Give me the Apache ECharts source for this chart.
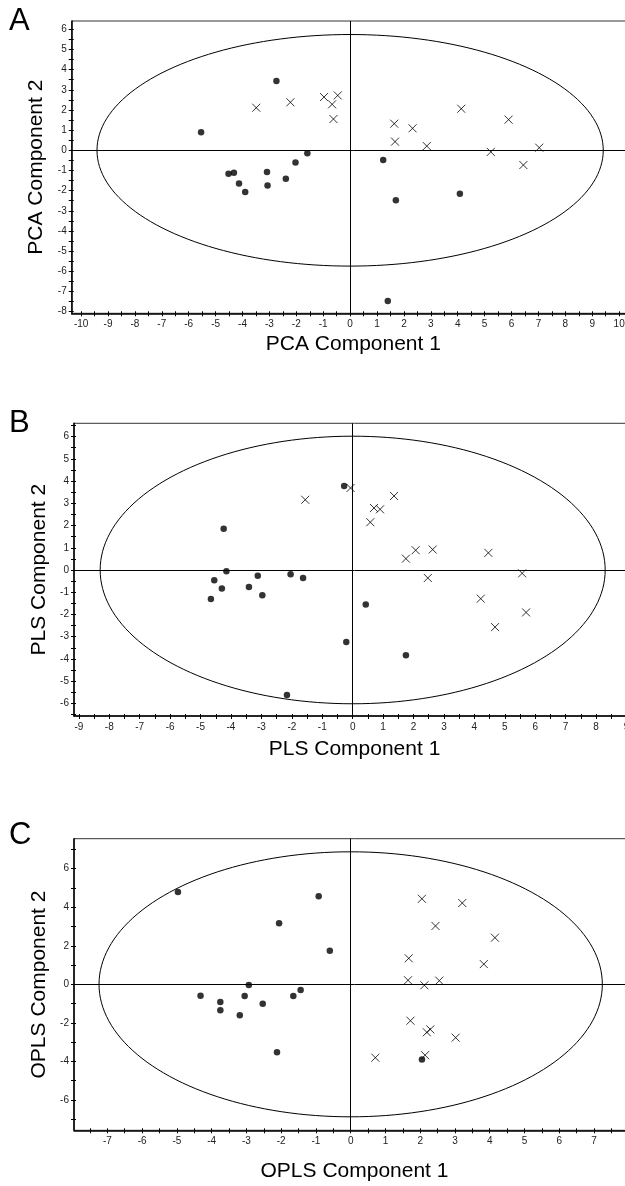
<!DOCTYPE html>
<html>
<head>
<meta charset="utf-8">
<title>PCA / PLS / OPLS score plots</title>
<script src="https://cdn.jsdelivr.net/npm/echarts@6/dist/echarts.min.js"></script>
<style>
  html, body { margin: 0; padding: 0; background: #fff; overflow: hidden; }
  #chart { width: 640px; height: 1186px; }
</style>
</head>
<body>
<div id="chart"></div>
<script>
// scores, [component 1, component 2]
const pcaDots = [[-5.54, 0.89], [-2.74, 3.44], [-4.52, -1.16], [-4.32, -1.11], [-4.13, -1.64],
  [-3.90, -2.07], [-3.09, -1.08], [-3.07, -1.74], [-2.39, -1.41], [-2.03, -0.60], [-1.59, -0.15],
  [1.23, -0.48], [1.70, -2.48], [4.08, -2.15], [1.40, -7.47]]
const pcaCrosses = [[-3.49, 2.11], [-2.22, 2.38], [-0.97, 2.64], [-0.46, 2.72], [-0.67, 2.28],
  [-0.62, 1.55], [1.64, 1.32], [1.67, 0.43], [2.32, 1.09], [2.85, 0.21], [4.13, 2.06],
  [5.23, -0.08], [5.89, 1.52], [6.44, -0.73], [7.03, 0.13]]

const plsDots = [[-4.24, 1.85], [-4.15, -0.06], [-4.55, -0.46], [-4.30, -0.83], [-4.66, -1.31],
  [-3.41, -0.77], [-3.12, -0.26], [-2.97, -1.14], [-2.04, -0.19], [-1.63, -0.36], [-2.16, -5.63],
  [-0.28, 3.78], [0.43, -1.55], [-0.21, -3.24], [1.75, -3.84]]
const plsCrosses = [[-1.56, 3.16], [-0.07, 3.69], [0.70, 2.79], [0.90, 2.73], [1.36, 3.33],
  [0.58, 2.15], [1.75, 0.51], [2.07, 0.89], [2.63, 0.92], [2.47, -0.36], [4.46, 0.77],
  [4.21, -1.29], [5.57, -0.15], [5.70, -1.91], [4.68, -2.57]]

const oplsDots = [[-4.97, 4.79], [-0.92, 4.57], [-2.06, 3.17], [-0.60, 1.74], [-4.32, -0.59],
  [-3.75, -0.92], [-3.75, -1.35], [-3.19, -1.61], [-3.05, -0.61], [-2.93, -0.04], [-2.53, -1.01],
  [-1.65, -0.61], [-1.44, -0.30], [-2.12, -3.53], [2.05, -3.91]]
const oplsCrosses = [[2.05, 4.44], [3.21, 4.22], [2.44, 3.03], [4.15, 2.42], [1.67, 1.35],
  [3.83, 1.05], [1.65, 0.21], [2.12, -0.05], [2.55, 0.19], [1.72, -1.89], [2.19, -2.49],
  [2.29, -2.34], [3.02, -2.77], [0.71, -3.81], [2.14, -3.68]]

// Hotelling T2 ellipse semi axes [a, b]
const pcaEllipse = [9.41, 5.74]
const plsEllipse = [8.30, 6.02]
const oplsEllipse = [7.24, 6.88]

// tick labels
const pcaXLabels = [-10, -9, -8, -7, -6, -5, -4, -3, -2, -1, 0, 1, 2, 3, 4, 5, 6, 7, 8, 9, 10]
const pcaYLabels = [-8, -7, -6, -5, -4, -3, -2, -1, 0, 1, 2, 3, 4, 5, 6]
const plsXLabels = [-9, -8, -7, -6, -5, -4, -3, -2, -1, 0, 1, 2, 3, 4, 5, 6, 7, 8, 9]
const plsYLabels = [-6, -5, -4, -3, -2, -1, 0, 1, 2, 3, 4, 5, 6]
const oplsXLabels = [-7, -6, -5, -4, -3, -2, -1, 0, 1, 2, 3, 4, 5, 6, 7]
const oplsYLabels = [-6, -4, -2, 0, 2, 4, 6]

const FONT = 'Liberation Sans, Arial, sans-serif'

function ticksBetween(lo, hi, step) {
  let out = []
  for (let v = lo; v <= hi + 1e-9; v += step) out.push(+v.toFixed(2))
  return out
}

function ellipsePoints(r) {
  let pts = []
  for (let i = 0; i <= 360; i += 2) {
    let t = i * Math.PI / 180
    pts.push([r[0] * Math.cos(t), r[1] * Math.sin(t)])
  }
  return pts
}

const panels = [
  {
    letter: 'A', letterTop: 6,
    grid: { left: 71.7, top: 21, width: 563.3, height: 292.3 },
    x: { min: -10.35, max: 10.59, labels: pcaXLabels, ticks: ticksBetween(-10, 10.5, 0.5), name: 'PCA Component 1', gap: 20 },
    y: { min: -8.08, max: 6.41, labels: pcaYLabels, ticks: ticksBetween(-8, 6, 0.5), name: 'PCA Component 2', gap: 19 },
    dots: pcaDots, crosses: pcaCrosses, ellipse: pcaEllipse
  },
  {
    letter: 'B', letterTop: 408,
    grid: { left: 74, top: 423.3, width: 561, height: 292.7 },
    x: { min: -9.16, max: 9.28, labels: plsXLabels, ticks: ticksBetween(-9, 9, 0.5), name: 'PLS Component 1', gap: 23 },
    y: { min: -6.57, max: 6.60, labels: plsYLabels, ticks: ticksBetween(-6.5, 6.5, 0.5), name: 'PLS Component 2', gap: 22 },
    dots: plsDots, crosses: plsCrosses, ellipse: plsEllipse
  },
  {
    letter: 'C', letterTop: 820,
    grid: { left: 74, top: 838.7, width: 561, height: 291.6 },
    x: { min: -7.96, max: 8.18, labels: oplsXLabels, ticks: ticksBetween(-7.5, 8, 0.5), name: 'OPLS Component 1', gap: 30 },
    y: { min: -7.58, max: 7.56, labels: oplsYLabels, ticks: ticksBetween(-7, 7, 1), name: 'OPLS Component 2', gap: 23 },
    dots: oplsDots, crosses: oplsCrosses, ellipse: oplsEllipse
  }
]

const crossSymbol = 'path://M0,0L10,10M10,0L0,10'

let option = {
  animation: false,
  backgroundColor: '#fff',
  textStyle: { fontFamily: FONT },
  title: [], grid: [], xAxis: [], yAxis: [], series: []
}

panels.forEach((p, i) => {
  option.title.push({
    text: p.letter, left: 9, top: p.letterTop, padding: 0,
    textStyle: { fontSize: 31, fontWeight: 'normal', color: '#000', fontFamily: FONT }
  })
  option.grid.push(Object.assign({
    show: true, borderColor: '#333', borderWidth: 1, backgroundColor: 'transparent'
  }, p.grid))

  // main axes: line, labels, outward ticks, title
  option.xAxis.push({
    type: 'value', gridIndex: i, position: 'bottom', min: p.x.min, max: p.x.max,
    name: p.x.name, nameLocation: 'middle', nameGap: p.x.gap,
    nameTextStyle: { fontSize: 21, color: '#000', fontFamily: FONT },
    axisLine: { onZero: false, lineStyle: { color: '#000', width: 1.5 } },
    axisTick: { show: true, length: 3, customValues: p.x.ticks, lineStyle: { color: '#000' } },
    axisLabel: { customValues: p.x.labels, fontSize: 10, color: '#222', margin: 6, fontFamily: FONT },
    splitLine: { show: false }
  })
  option.yAxis.push({
    type: 'value', gridIndex: i, position: 'left', min: p.y.min, max: p.y.max,
    name: p.y.name, nameLocation: 'middle', nameGap: p.y.gap,
    nameTextStyle: { fontSize: 21, color: '#000', fontFamily: FONT },
    axisLine: { onZero: false, lineStyle: { color: '#000', width: 1.5 } },
    axisTick: { show: true, length: 3, customValues: p.y.ticks, lineStyle: { color: '#000' } },
    axisLabel: { customValues: p.y.labels, fontSize: 10, color: '#222', margin: 5, fontFamily: FONT },
    splitLine: { show: false }
  })
  // twin axes only for the inward half of the ticks
  option.xAxis.push({
    type: 'value', gridIndex: i, position: 'bottom', min: p.x.min, max: p.x.max,
    axisLine: { show: false, onZero: false },
    axisTick: { show: true, inside: true, length: 2, customValues: p.x.ticks, lineStyle: { color: '#000' } },
    axisLabel: { show: false }, splitLine: { show: false }
  })
  option.yAxis.push({
    type: 'value', gridIndex: i, position: 'left', min: p.y.min, max: p.y.max,
    axisLine: { show: false, onZero: false },
    axisTick: { show: true, inside: true, length: 2, customValues: p.y.ticks, lineStyle: { color: '#000' } },
    axisLabel: { show: false }, splitLine: { show: false }
  })

  const xi = i * 2, yi = i * 2
  option.series.push({
    type: 'line', xAxisIndex: xi, yAxisIndex: yi,
    data: ellipsePoints(p.ellipse), showSymbol: false, smooth: false, silent: true,
    lineStyle: { color: '#000', width: 1 },
    markLine: {
      silent: true, symbol: ['none', 'none'], label: { show: false },
      lineStyle: { color: '#000', width: 1, type: 'solid' },
      data: [{ xAxis: 0 }, { yAxis: 0 }]
    }
  })
  option.series.push({
    type: 'scatter', xAxisIndex: xi, yAxisIndex: yi, data: p.dots,
    symbol: 'circle', symbolSize: 6.5, itemStyle: { color: '#000' }
  })
  option.series.push({
    type: 'scatter', xAxisIndex: xi, yAxisIndex: yi, data: p.crosses,
    symbol: crossSymbol, symbolSize: 8,
    itemStyle: { color: 'none', borderColor: '#000', borderWidth: 1 }
  })
})

let myChart = echarts.init(document.getElementById('chart'), null, { renderer: 'canvas' })
myChart.setOption(option)
</script>
</body>
</html>
